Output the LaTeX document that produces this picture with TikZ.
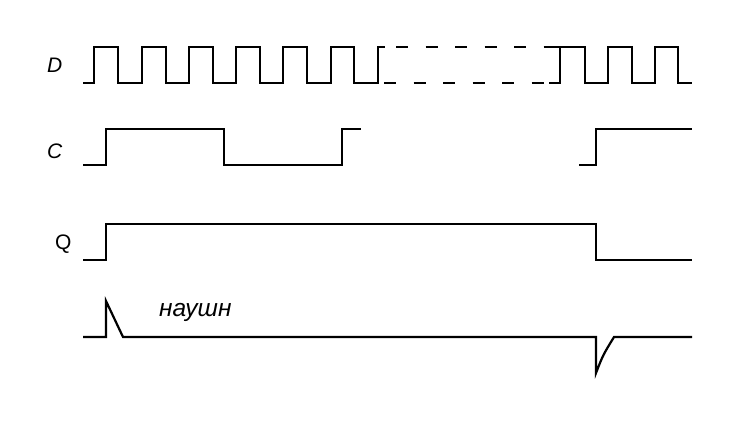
\documentclass[tikz,border=0pt]{standalone}
\usepackage{fontspec}
\setmainfont{Liberation Sans}
\begin{document}
\begin{tikzpicture}[x=1pt,y=-1pt,
  wave/.style={line width=2.2pt, line join=miter},
  dashwave/.style={wave, dash pattern=on 12pt off 17.5pt},
  lbl/.style={inner sep=0pt, anchor=base west, font=\fontsize{21}{23}\selectfont\itshape},
  lblup/.style={inner sep=0pt, anchor=base west, font=\fontsize{21}{23}\selectfont}]
\useasboundingbox (0,0) rectangle (738,423);
% labels
\node[lbl] (labD) at (47,72.3) {D};
\node[lbl] (labC) at (47,158.3) {C};
\node[lblup] (labQ) at (55,249.5) {Q};
\node[lbl, font=\fontsize{24.5}{26}\selectfont\itshape] (labN) at (159,316.7) {наушн};
% D
\draw[wave] (83,83) -- (94,83) -- (94,47) -- (118,47) -- (118,83) -- (142,83) -- (142,47)
  -- (166,47) -- (166,83) -- (189,83) -- (189,47) -- (213,47) -- (213,83) -- (236,83)
  -- (236,47) -- (260,47) -- (260,83) -- (283,83) -- (283,47) -- (307,47) -- (307,83)
  -- (331,83) -- (331,47) -- (354,47) -- (354,83) -- (378,83) -- (378,47) -- (385,47);
\draw[dashwave] (396,47) -- (556,47);
\draw[dashwave] (384,83) -- (549,83);
\draw[wave] (545,47) -- (560,47);
\draw[wave] (549,83) -- (560,83) -- (560,47) -- (585,47) -- (585,83) -- (608,83) -- (608,47)
  -- (632,47) -- (632,83) -- (655,83) -- (655,47) -- (678,47) -- (678,83) -- (692,83);
% C
\draw[wave] (83,165) -- (106,165) -- (106,129) -- (224,129) -- (224,165) -- (342,165) -- (342,129) -- (361,129);
\draw[wave] (579,165) -- (596,165) -- (596,129) -- (692,129);
% Q
\draw[wave] (83,260) -- (106,260) -- (106,224) -- (596,224) -- (596,260) -- (692,260);
% pulses
\draw[wave] (83,337) -- (106,337) -- (106,301) -- (123,337) -- (596,337) -- (596,373)
  .. controls (603,355) .. (614,337) -- (692,337);
\end{tikzpicture}
\end{document}
